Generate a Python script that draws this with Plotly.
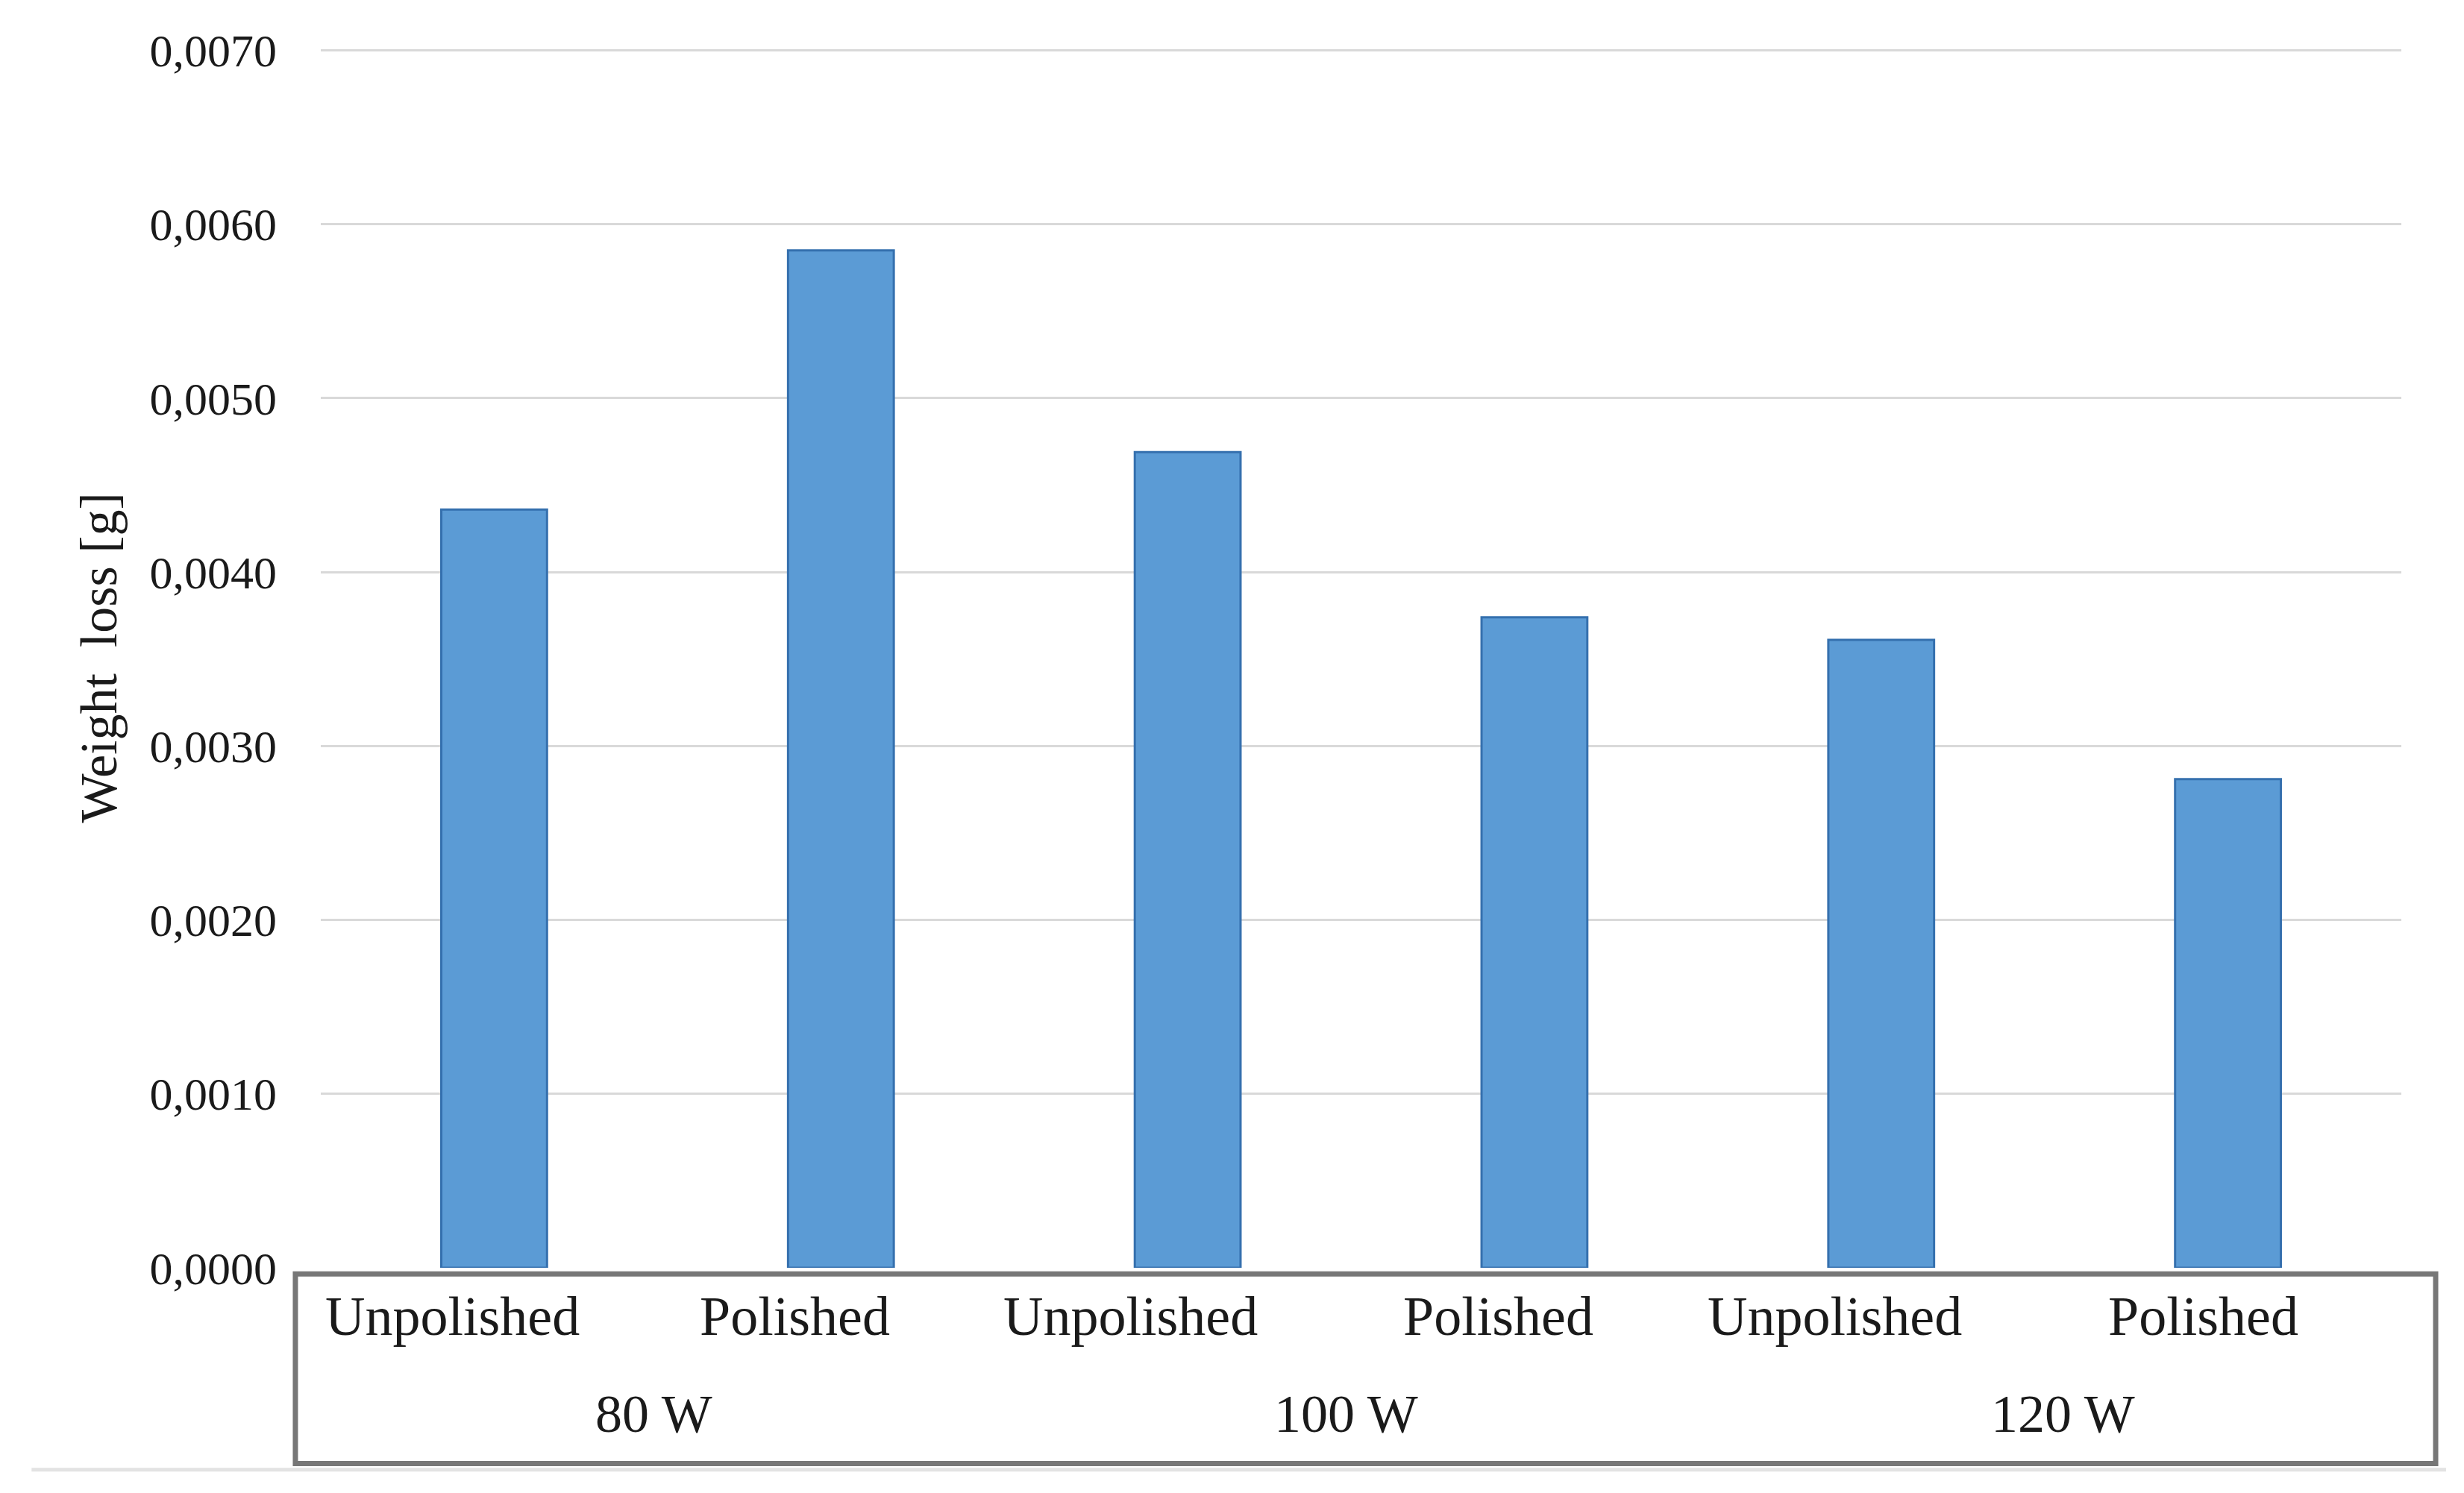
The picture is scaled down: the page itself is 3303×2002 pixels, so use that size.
import plotly.graph_objects as go

# ---- data ----
sample_labels = ["Unpolished", "Polished", "Unpolished", "Polished", "Unpolished", "Polished"]
power_groups = ["80 W", "100 W", "120 W"]
weight_loss = [0.00436, 0.00585, 0.00469, 0.00374, 0.00361, 0.00281]
y_ticks = [0.0, 0.001, 0.002, 0.003, 0.004, 0.005, 0.006, 0.007]

FONT = "Liberation Serif"
TXT = "#1a1a1a"

# label offsets (pixels) inside the category box, as in the original layout
label_shift = [-56, -62, -77, -48, -62, -33]
group_shift = [-18, -20, 11]

x_pos = list(range(len(weight_loss)))

fig = go.Figure()
fig.add_trace(go.Bar(
    x=x_pos,
    y=weight_loss,
    width=0.305,
    marker=dict(color="#5B9BD5", line=dict(color="#3570AE", width=3)),
    showlegend=False,
))

annotations = []
# category labels (first level)
for i, lab in enumerate(sample_labels):
    annotations.append(dict(
        x=x_pos[i], y=-0.040, xref="x", yref="paper",
        text=lab, showarrow=False, xanchor="center", yanchor="middle",
        xshift=label_shift[i], font=dict(family=FONT, size=74, color=TXT),
    ))
# group labels (second level)
n_per = len(sample_labels) // len(power_groups)
for g, lab in enumerate(power_groups):
    xc = (x_pos[g * n_per] + x_pos[g * n_per + n_per - 1]) / 2
    annotations.append(dict(
        x=xc, y=-0.120, xref="x", yref="paper",
        text=lab, showarrow=False, xanchor="center", yanchor="middle",
        xshift=group_shift[g], font=dict(family=FONT, size=72, color=TXT),
    ))
# y-axis title
annotations.append(dict(
    x=-0.107, y=0.50, xref="paper", yref="paper",
    text="Weight  loss [g]", showarrow=False, textangle=-90,
    xanchor="center", yanchor="middle",
    font=dict(family=FONT, size=70, color=TXT),
))

shapes = [
    # light base line under the box
    dict(type="line", xref="paper", yref="paper",
         x0=-0.139, x1=1.0215, y0=-0.1655, y1=-0.1655,
         line=dict(color="#e3e3e3", width=5), layer="below"),
    # category box
    dict(type="rect", xref="paper", yref="paper",
         x0=-0.0122, x1=1.0165, y0=-0.1605, y1=-0.005,
         line=dict(color="#777777", width=7), fillcolor="white", layer="above"),
]

fig.update_layout(
    width=3303, height=2002,
    margin=dict(l=430, r=84, t=64, b=302),
    paper_bgcolor="white", plot_bgcolor="white",
    separators=",.",
    annotations=annotations,
    shapes=shapes,
    xaxis=dict(
        range=[-0.5, len(weight_loss) - 0.5],
        showticklabels=False, showgrid=False, zeroline=False,
        showline=False, ticks="",
    ),
    yaxis=dict(
        range=[0, 0.007015],
        tickvals=y_ticks,
        tickformat=".4f",
        showgrid=True, gridcolor="#d9d9d9", gridwidth=3,
        zeroline=False, showline=False, ticks="",
        ticklabelstandoff=58,
        tickfont=dict(family=FONT, size=62, color=TXT),
    ),
    bargap=0.7,
)

fig.write_html(
    "out.html",
    config={"displayModeBar": False},
    post_script="document.body.style.margin='0px';document.body.style.overflow='hidden';",
)
